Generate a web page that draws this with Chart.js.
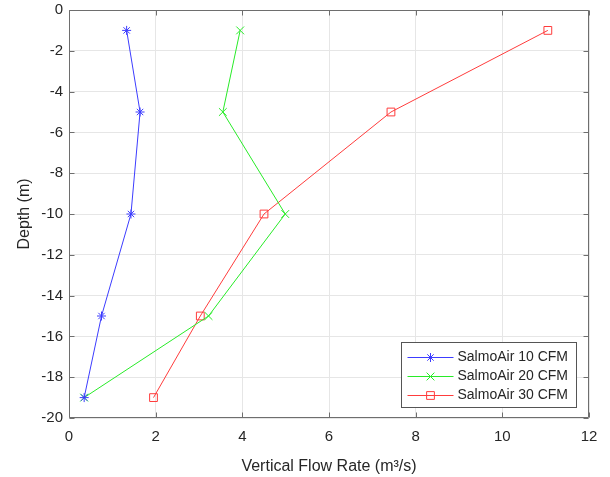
<!DOCTYPE html>
<html>
<head>
<meta charset="utf-8">
<script src="https://cdn.jsdelivr.net/npm/chart.js@4.4.1/dist/chart.umd.min.js"></script>
<style>
  html, body { margin: 0; padding: 0; background: #fff; }
  #wrap { width: 610px; height: 477px; position: relative; }
</style>
</head>
<body>
<div id="wrap"><canvas id="flowChart"></canvas></div>
<script>
// depth of each sample point (m) and measured vertical flow rate (m3/s)
const depths = [-1, -5, -10, -15, -19];
const flow10 = [1.33, 1.64, 1.43, 0.75, 0.35];
const flow20 = [3.95, 3.55, 4.99, 3.22, 0.35];
const flow30 = [11.05, 7.43, 4.50, 3.03, 1.95];

const seriesNames = ['SalmoAir 10 CFM', 'SalmoAir 20 CFM', 'SalmoAir 30 CFM'];
const xTicks = [0, 2, 4, 6, 8, 10, 12];
const yTicks = [0, -2, -4, -6, -8, -10, -12, -14, -16, -18, -20];

const FONT = '"Liberation Sans", Arial, Helvetica, sans-serif';
const TEXT = '#262626';
const AXIS = '#6e6e6e';

const toPoints = (xs) => xs.map((x, i) => ({ x: x, y: depths[i] }));

const makeSeries = (label, values, color, style, radius) => ({
  label: label,
  data: toPoints(values),
  showLine: true,
  borderColor: color,
  backgroundColor: 'rgba(0,0,0,0)',
  borderWidth: 1,
  pointStyle: style,
  pointRadius: radius,
  pointHoverRadius: radius,
  pointBorderColor: color,
  pointBackgroundColor: 'rgba(0,0,0,0)',
  pointBorderWidth: 1
});

// box around the plot with inward tick marks on all four sides
const axesBox = {
  id: 'axesBox',
  beforeDatasetsDraw(chart) {
    const { ctx, chartArea: a, scales } = chart;
    const L = Math.round(a.left) + 0.5, R = Math.round(a.right) - 0.5;
    const T = Math.round(a.top) + 0.5, B = Math.round(a.bottom) - 0.5;
    const tick = 5;
    ctx.save();
    ctx.strokeStyle = AXIS;
    ctx.lineWidth = 1;
    ctx.beginPath();
    ctx.rect(L, T, R - L, B - T);
    xTicks.forEach(v => {
      const px = Math.round(scales.x.getPixelForValue(v)) + 0.5;
      ctx.moveTo(px, B); ctx.lineTo(px, B - tick);
      ctx.moveTo(px, T); ctx.lineTo(px, T + tick);
    });
    yTicks.forEach(v => {
      const py = Math.round(scales.y.getPixelForValue(v)) + 0.5;
      ctx.moveTo(L, py); ctx.lineTo(L + tick, py);
      ctx.moveTo(R, py); ctx.lineTo(R - tick, py);
    });
    ctx.stroke();
    ctx.restore();
  }
};

// legend box in the lower right corner of the plot
const boxLegend = {
  id: 'boxLegend',
  afterDraw(chart) {
    const { ctx, chartArea: a } = chart;
    const w = 175, h = 65;
    const x0 = Math.round(a.right - 13 - w) + 0.5;
    const y0 = Math.round(a.bottom - 11 - h) + 0.5;
    ctx.save();
    ctx.fillStyle = '#fff';
    ctx.fillRect(x0, y0, w, h);
    ctx.strokeStyle = '#555';
    ctx.lineWidth = 1;
    ctx.strokeRect(x0, y0, w, h);
    ctx.font = '14px ' + FONT;
    ctx.textBaseline = 'middle';
    ctx.textAlign = 'left';
    chart.data.datasets.forEach((ds, i) => {
      const ry = Math.round(y0 + 14.5 + i * 19) + 0.5;
      ctx.strokeStyle = ds.borderColor;
      ctx.lineWidth = 1;
      ctx.beginPath();
      ctx.moveTo(x0 + 6, ry);
      ctx.lineTo(x0 + 52, ry);
      ctx.stroke();
      if (Chart.helpers && Chart.helpers.drawPoint) {
        ctx.fillStyle = 'rgba(0,0,0,0)';
        Chart.helpers.drawPoint(ctx, {
          pointStyle: ds.pointStyle,
          radius: ds.pointRadius,
          rotation: 0,
          borderWidth: 1
        }, x0 + 29, ry);
      }
      ctx.fillStyle = TEXT;
      ctx.fillText(ds.label, x0 + 56, ry);
    });
    ctx.restore();
  }
};

new Chart(document.getElementById('flowChart'), {
  type: 'scatter',
  data: {
    datasets: [
      makeSeries(seriesNames[0], flow10, 'rgb(60,60,255)', 'star', 4.5),
      makeSeries(seriesNames[1], flow20, 'rgb(40,235,40)', 'crossRot', 5.5),
      makeSeries(seriesNames[2], flow30, 'rgb(255,60,60)', 'rect', 5.5)
    ]
  },
  options: {
    responsive: true,
    maintainAspectRatio: false,
    animation: false,
    layout: { padding: { top: 10, right: 21, left: 0, bottom: 0 } },
    plugins: {
      legend: { display: false },
      tooltip: { enabled: false }
    },
    scales: {
      x: {
        type: 'linear',
        min: 0,
        max: 12,
        afterBuildTicks: (s) => { s.ticks = xTicks.map(v => ({ value: v })); },
        afterFit: (s) => { s.height = 59; s.paddingLeft = 0; s.paddingRight = 0; },
        grid: { color: '#e6e6e6', drawTicks: false },
        border: { display: false },
        ticks: { color: TEXT, font: { family: FONT, size: 15 }, padding: 10, maxRotation: 0 },
        title: {
          display: true,
          text: 'Vertical Flow Rate (m³/s)',
          color: TEXT,
          font: { family: FONT, size: 16 },
          padding: { top: 0, bottom: 1 }
        }
      },
      y: {
        type: 'linear',
        min: -20,
        max: 0,
        afterBuildTicks: (s) => { s.ticks = yTicks.map(v => ({ value: v })); },
        afterFit: (s) => { s.width = 69; s.paddingTop = 0; s.paddingBottom = 0; },
        grid: { color: '#e6e6e6', drawTicks: false },
        border: { display: false },
        ticks: { color: TEXT, font: { family: FONT, size: 15 }, padding: 6 },
        title: {
          display: true,
          text: 'Depth (m)',
          color: TEXT,
          font: { family: FONT, size: 16 },
          padding: { top: 15, bottom: 0 }
        }
      }
    }
  },
  plugins: [axesBox, boxLegend]
});
</script>
</body>
</html>
